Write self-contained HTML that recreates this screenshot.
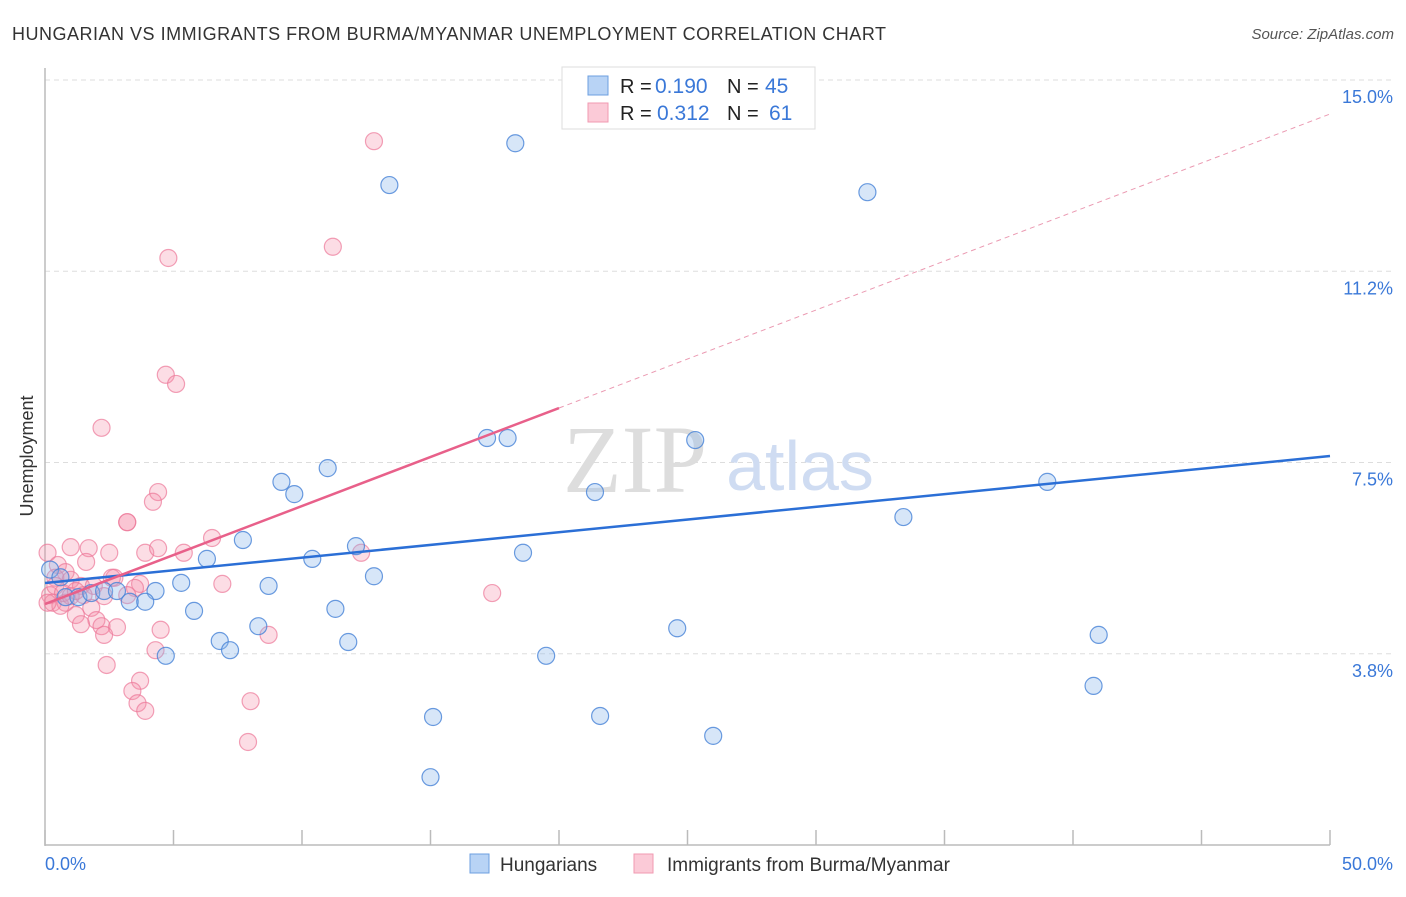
<!DOCTYPE html>
<html><head><meta charset="utf-8"><style>
body{margin:0;background:#fff;font-family:"Liberation Sans",sans-serif;}
</style></head><body>
<svg width="1406" height="892" viewBox="0 0 1406 892" xmlns="http://www.w3.org/2000/svg">
<text x="12" y="40" font-size="18" fill="#333" textLength="874">HUNGARIAN VS IMMIGRANTS FROM BURMA/MYANMAR UNEMPLOYMENT CORRELATION CHART</text>
<text x="1394" y="39" font-size="15" fill="#555" text-anchor="end" font-style="italic">Source: ZipAtlas.com</text>
<text x="33" y="456" font-size="18" fill="#333" text-anchor="middle" transform="rotate(-90 33 456)">Unemployment</text>
<g id="grid"></g>
<text x="635" y="492" font-size="96" fill="#ddd" font-family="Liberation Serif,serif" text-anchor="middle">ZIP</text>
<text x="800" y="490" font-size="70" fill="#cfdcf2" text-anchor="middle">atlas</text>
<line x1="45" y1="68" x2="45" y2="846" stroke="#bbb" stroke-width="1.5"/>
<line x1="45" y1="845" x2="1330" y2="845" stroke="#bbb" stroke-width="1.5"/>
<g id="xticks"></g>
<g id="pts"></g>
<g id="lines"></g>
<text x="45" y="870" font-size="18" fill="#3a78d8">0.0%</text>
<text x="1393" y="870" font-size="18" fill="#3a78d8" text-anchor="end">50.0%</text>
<g>
<rect x="562" y="67" width="253" height="62" fill="#fff" stroke="#ddd"/>
<rect x="588" y="76" width="20" height="19" fill="#b8d3f5" stroke="#6c9fe0"/>
<rect x="588" y="103" width="20" height="19" fill="#fbcad7" stroke="#f09ab2"/>
<text x="620" y="93" font-size="20" fill="#222">R =</text>
<text x="655" y="93" font-size="21" fill="#3a78d8">0.190</text>
<text x="727" y="93" font-size="20" fill="#222">N =</text>
<text x="765" y="93" font-size="21" fill="#3a78d8">45</text>
<text x="620" y="120" font-size="20" fill="#222">R =</text>
<text x="657" y="120" font-size="21" fill="#3a78d8">0.312</text>
<text x="727" y="120" font-size="20" fill="#222">N =</text>
<text x="769" y="120" font-size="21" fill="#3a78d8">61</text>
</g>
<g>
<rect x="470" y="854" width="19" height="19" fill="#b8d3f5" stroke="#6c9fe0"/>
<text x="500" y="871" font-size="19" fill="#333">Hungarians</text>
<rect x="634" y="854" width="19" height="19" fill="#fbcad7" stroke="#f09ab2"/>
<text x="667" y="871" font-size="19" fill="#333">Immigrants from Burma/Myanmar</text>
</g>
</svg>
<script>
const yTicks=[15.0,11.25,7.5,3.75];
const yTickLabels=["15.0%","11.2%","7.5%","3.8%"];
const xTickVals=[0,5,10,15,20,25,30,35,40,45,50];
const blueX=[18.3,13.4,32.0,17.2,18.0,25.3,11.0,9.2,9.7,21.4,39.0,33.4,7.7,12.1,18.6,6.3,10.4,12.8,5.3,8.7,4.3,0.2,0.6,0.8,1.3,1.8,2.3,2.8,3.3,3.9,5.8,11.3,8.3,6.8,7.2,11.8,4.7,19.5,24.6,41.0,40.8,15.1,21.6,26.0,15.0];
const blueY=[13.76,12.94,12.8,7.98,7.98,7.94,7.39,7.12,6.88,6.92,7.12,6.43,5.98,5.86,5.73,5.61,5.61,5.27,5.14,5.08,4.98,5.4,5.25,4.86,4.86,4.94,4.98,4.98,4.77,4.77,4.59,4.63,4.29,4.0,3.82,3.98,3.71,3.71,4.25,4.12,3.12,2.51,2.53,2.14,1.33];
const pinkX=[12.8,11.2,4.8,4.7,5.1,2.2,4.4,4.2,3.2,3.2,6.5,1.0,1.7,0.1,2.5,3.9,4.4,5.4,1.6,0.5,0.8,0.4,1.0,2.7,2.6,1.4,1.9,3.7,6.9,3.5,0.2,0.3,0.8,1.5,12.3,17.4,1.8,0.6,1.2,2.0,2.2,2.8,1.4,2.3,4.5,8.7,4.3,2.4,3.7,3.4,3.6,3.9,8.0,7.9,0.4,0.7,1.0,1.2,2.3,3.2,0.1];
const pinkY=[13.8,11.73,11.51,9.22,9.04,8.18,6.92,6.73,6.33,6.33,6.02,5.84,5.82,5.73,5.73,5.73,5.82,5.73,5.55,5.49,5.35,5.24,5.2,5.24,5.24,5.08,5.08,5.12,5.12,5.04,4.9,4.75,4.75,4.9,5.73,4.94,4.65,4.69,4.51,4.41,4.29,4.27,4.33,4.12,4.22,4.12,3.82,3.53,3.22,3.02,2.78,2.63,2.82,2.02,5.08,4.94,4.88,4.98,4.88,4.9,4.75];
const blueFit=[5.137,7.627];
const pinkFit=[4.725,14.333];
const pinkSolidEnd=20;
const NS="http://www.w3.org/2000/svg";
const sx=v=>45+v*25.7;
const sy=v=>80+(15-v)*51;
function mk(t,a,p){const e=document.createElementNS(NS,t);for(const k in a)e.setAttribute(k,a[k]);document.getElementById(p).appendChild(e);return e;}
yTicks.forEach((v,i)=>{
 const l=mk('line',{x1:45,x2:1393,y1:sy(v),y2:sy(v),stroke:'#ddd','stroke-dasharray':'5,4'},'grid');
 
 
 const t=mk('text',{x:1393,y:sy(v)+23,'font-size':18,fill:'#3a78d8','text-anchor':'end'},'grid');
 t.textContent=yTickLabels[i];
 
 
});
xTickVals.forEach(v=>{
 const l=mk('line',{x1:sx(v),x2:sx(v),y1:830,y2:845,stroke:'#bbb','stroke-width':1.5},'xticks');
 
 
});
pinkX.forEach((x,i)=>{
 const c=mk('circle',{cx:sx(x),cy:sy(pinkY[i]),r:8.5,fill:'rgba(244,143,170,0.3)',stroke:'rgba(236,120,152,0.7)','stroke-width':1.2},'pts');
 
 
});
blueX.forEach((x,i)=>{
 const c=mk('circle',{cx:sx(x),cy:sy(blueY[i]),r:8.5,fill:'rgba(140,182,236,0.35)',stroke:'rgba(70,130,215,0.8)','stroke-width':1.2},'pts');
 
 
});
const pf=x=>pinkFit[0]+(pinkFit[1]-pinkFit[0])*x/50;
let l1=mk('line',{x1:sx(0),y1:sy(blueFit[0]),x2:sx(50),y2:sy(blueFit[1]),stroke:'#2b6fd6','stroke-width':2.5},'lines');


let l2=mk('line',{x1:sx(0),y1:sy(pf(0)),x2:sx(pinkSolidEnd),y2:sy(pf(pinkSolidEnd)),stroke:'#e8608a','stroke-width':2.5},'lines');


let l3=mk('line',{x1:sx(pinkSolidEnd),y1:sy(pf(pinkSolidEnd)),x2:sx(50),y2:sy(pf(50)),stroke:'#eb9ab2','stroke-width':1,'stroke-dasharray':'5,4'},'lines');


</script>
</body></html>
